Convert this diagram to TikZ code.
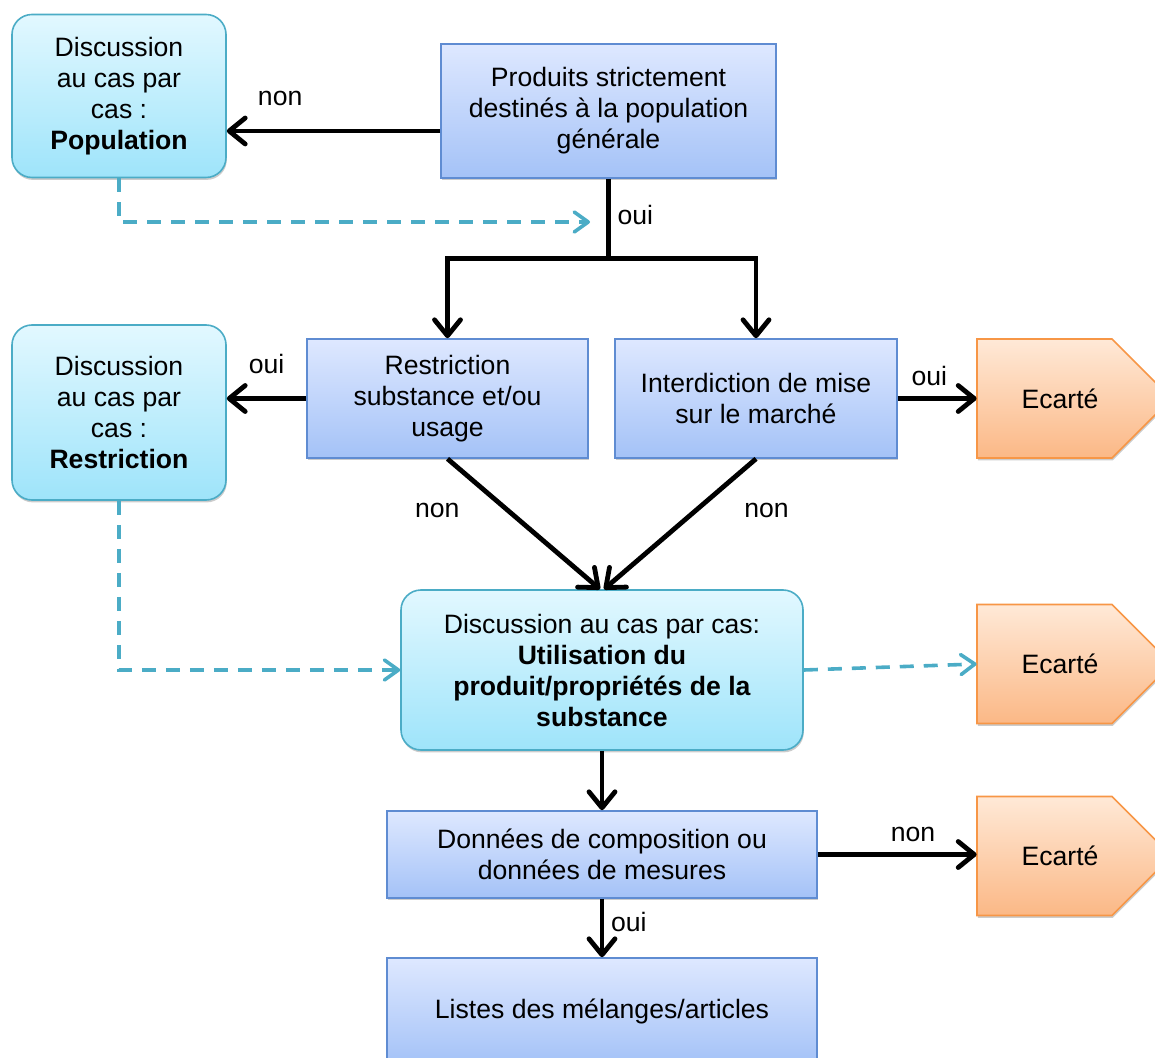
\documentclass[tikz,border=0pt]{standalone}
\usepackage{fontspec}
\setmainfont{Liberation Sans}
\usetikzlibrary{arrows.meta,shadows}
\definecolor{bluetop}{RGB}{222,232,255}
\definecolor{bluebot}{RGB}{164,194,247}
\definecolor{blueline}{RGB}{95,140,210}
\definecolor{cyantop}{RGB}{226,248,255}
\definecolor{cyanbot}{RGB}{158,228,250}
\definecolor{cyanline}{RGB}{75,172,198}
\definecolor{orgtop}{RGB}{255,233,215}
\definecolor{orgbot}{RGB}{251,184,134}
\definecolor{orgline}{RGB}{247,150,70}

\tikzset{
  boxshadow/.style={drop shadow={shadow xshift=0.4pt, shadow yshift=-1.2pt, fill=black!40}},
  stepbox/.style={draw=blueline, line width=0.8pt, top color=bluetop, bottom color=bluebot,
    align=center, inner sep=2pt, boxshadow},
  talkbox/.style={draw=cyanline, line width=0.8pt, rounded corners=10pt, top color=cyantop,
    bottom color=cyanbot, align=center, inner sep=2pt, boxshadow},
  ecshape/.style={draw=orgline, line width=0.8pt, top color=orgtop, bottom color=orgbot, boxshadow},
  ectext/.style={minimum width=83pt, minimum height=59.5pt, inner sep=0pt},
  arr/.style={line width=2.4pt, -{Straight Barb[length=8pt,width=13pt,round]}},
  plain/.style={line width=2.4pt},
  dasharr/.style={cyanline, line width=1.8pt, dash pattern=on 7pt off 5pt,
    -{Straight Barb[length=7pt,width=10pt,round]}},
}

\begin{document}
\begin{tikzpicture}[x=0.5pt, y=-0.5pt, font=\fontsize{13.3}{15.5}\selectfont]
    \useasboundingbox (0,0) rectangle (1155,1058);

    % boxes
    \node[talkbox, minimum width=107pt, minimum height=81.5pt] (popu) at (119,96)
        {Discussion\\au cas par\\cas :\\\textbf{Population}};
    \node[stepbox, minimum width=167.5pt, minimum height=67pt] (prod) at (608.5,111)
        {Produits strictement\\destinés à la population\\générale};
    \node[talkbox, minimum width=107pt, minimum height=87.5pt] (restr) at (119,412.5)
        {Discussion\\au cas par\\cas :\\\textbf{Restriction}};
    \node[stepbox, minimum width=140.5pt, minimum height=59.5pt] (subst) at (447.5,398.5)
        {Restriction\\substance et/ou\\usage};
    \node[stepbox, minimum width=141pt, minimum height=59.5pt] (inter) at (756,398.5)
        {Interdiction de mise\\sur le marché};
    \node[talkbox, minimum width=201pt, minimum height=80pt] (usage) at (602,670)
        {Discussion au cas par cas:\\\textbf{Utilisation du}\\\textbf{produit/propriétés de la}\\\textbf{substance}};
    \node[stepbox, minimum width=215pt, minimum height=43.5pt] (donn) at (602,854.5)
        {Données de composition ou\\données de mesures};
    \node[stepbox, minimum width=215pt, minimum height=53pt] (liste) at (602,1011)
        {Listes des mélanges/articles};

    % Ecarte arrows
    \foreach \n/\y in {ecA/398.5, ecB/664, ecC/856} {
        \path[ecshape] (977,{\y-59.5}) -- (1112,{\y-59.5}) -- (1171.5,\y)
            -- (1112,{\y+59.5}) -- (977,{\y+59.5}) -- cycle;
        \node[ectext] (\n) at (1060,\y) {Ecarté};
    }

    % connectors
    \draw[arr] ([yshift=-10pt]prod.west) coordinate (p) -- (popu.east |- p)
        node[pos=0.75, above=8pt] {non};
    \draw[plain] (prod.south) -- ++(0,80) coordinate (fork) node[pos=0.45, right] {oui};
    \draw[arr] (fork) -| (subst.north);
    \draw[arr] (fork) -| (inter.north);
    \coordinate (d1) at (590,222);
    \draw[dasharr] (popu.south) |- (d1);

    \draw[arr] (subst.west) -- (restr.east |- subst.west) node[midway, above=8pt] {oui};
    \draw[arr] (inter.east) -- (ecA.west) node[pos=0.4, above=2pt] {oui};
    \draw[arr] (subst.south) -- ([xshift=-1pt]usage.north) node[pos=0.4, left=20pt] {non};
    \draw[arr] (inter.south) -- ([xshift=1pt]usage.north) node[pos=0.4, right=20pt] {non};
    \draw[dasharr] (restr.south) |- (usage.west);
    \draw[dasharr] (usage.east) -- (ecB.west);

    \draw[arr] (usage.south) -- (donn.north);
    \draw[arr] (donn.east) -- (ecC.west |- donn.east) node[pos=0.6, above=2pt] {non};
    \draw[arr] (donn.south) -- (liste.north) node[pos=0.4, right] {oui};

\end{tikzpicture}
\end{document}
